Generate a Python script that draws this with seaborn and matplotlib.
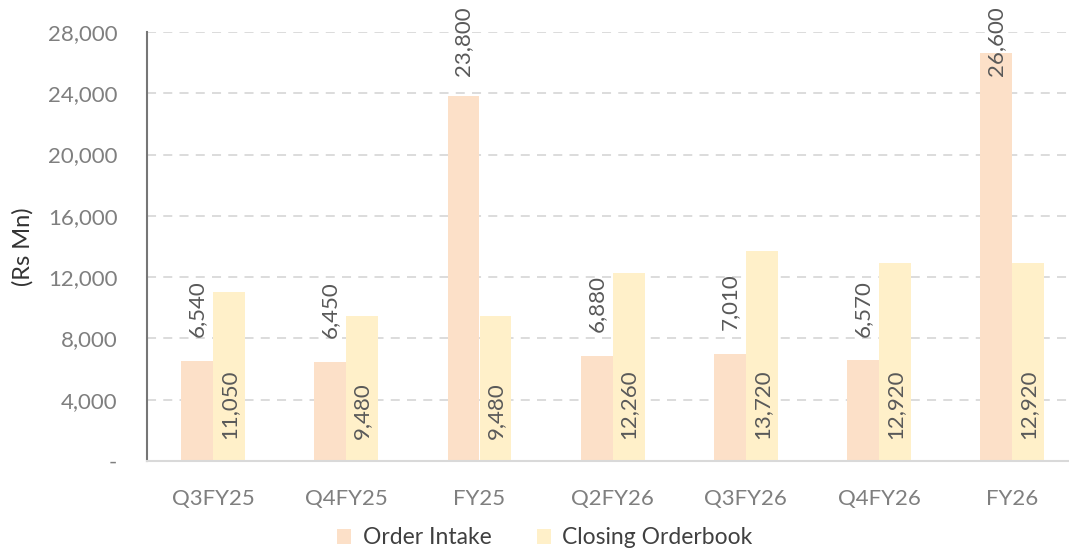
import pandas as pd
import matplotlib
matplotlib.use("Agg")
import matplotlib.pyplot as plt
import seaborn as sns

# chart data
periods = ["Q3FY25", "Q4FY25", "FY25", "Q2FY26", "Q3FY26", "Q4FY26", "FY26"]
order_intake = [6540, 6450, 23800, 6880, 7010, 6570, 26600]
closing_orderbook = [11050, 9480, 9480, 12260, 13720, 12920, 12920]
y_ticks = [0, 4000, 8000, 12000, 16000, 20000, 24000, 28000]

sns.set_theme(style="white")
plt.rcParams['font.family'] = ['Lato', 'DejaVu Sans']

df = pd.DataFrame({
    "period": periods * 2,
    "value": order_intake + closing_orderbook,
    "series": ["Order Intake"] * len(periods) + ["Closing Orderbook"] * len(periods),
})

fig = plt.figure(figsize=(10.69, 5.55), dpi=100)
ax = fig.add_axes([146.5 / 1069, 1 - 461 / 555, 1 - 146.5 / 1069, (461 - 32) / 555])

sns.barplot(data=df, x="period", y="value", hue="series", order=periods,
            palette=["#FCE0C8", "#FFF0C9"], width=0.48, ax=ax, legend=True,
            saturation=1, linewidth=0)

ax.set_ylim(0, 28000)
ax.set_xlim(-0.5, -0.5 + (1069 - 146.5) / 133.2)
ax.set_yticks(y_ticks)
ax.set_yticklabels(["-" if t == 0 else f"{t:,}" for t in y_ticks])
ax.yaxis.grid(True, color="#D9D9D9", linestyle=(0, (5, 4)), linewidth=1.3)
ax.set_axisbelow(True)

for s in ["top", "right"]:
    ax.spines[s].set_visible(False)
ax.spines["left"].set_color("#767676")
ax.spines["left"].set_linewidth(1.5)
ax.spines["bottom"].set_color("#D9D9D9")
ax.spines["bottom"].set_linewidth(1.5)

ax.tick_params(axis="both", length=0, labelsize=16, colors="#7F7F7F")
ax.tick_params(axis="x", pad=20)
ax.tick_params(axis="y", pad=21)
ax.set_xlabel("")
ax.set_ylabel("(Rs Mn)", fontsize=17, color="#333333")
ax.yaxis.set_label_coords(-0.122, 0.5)

# value labels
off = 0.12
for i, v in enumerate(order_intake):
    ax.text(i - off, min(v + 1550, 25100), f"{v:,}", rotation=90, ha="center",
            va="bottom", fontsize=16, color="#595959", clip_on=False)
for i, v in enumerate(closing_orderbook):
    ax.text(i + off, 1436, f"{v:,}", rotation=90, ha="center", va="bottom",
            fontsize=16, color="#595959")

handles, labels = ax.get_legend_handles_labels()
ax.legend_.remove()
fig.legend(handles, labels, loc="center", bbox_to_anchor=(545 / 1069, 1 - 538 / 555),
           ncol=2, frameon=False, fontsize=16.5, handlelength=0.6, handleheight=0.6,
           columnspacing=2.0, handletextpad=0.5, labelcolor="#404040")

fig.savefig("out.png", dpi=100)
